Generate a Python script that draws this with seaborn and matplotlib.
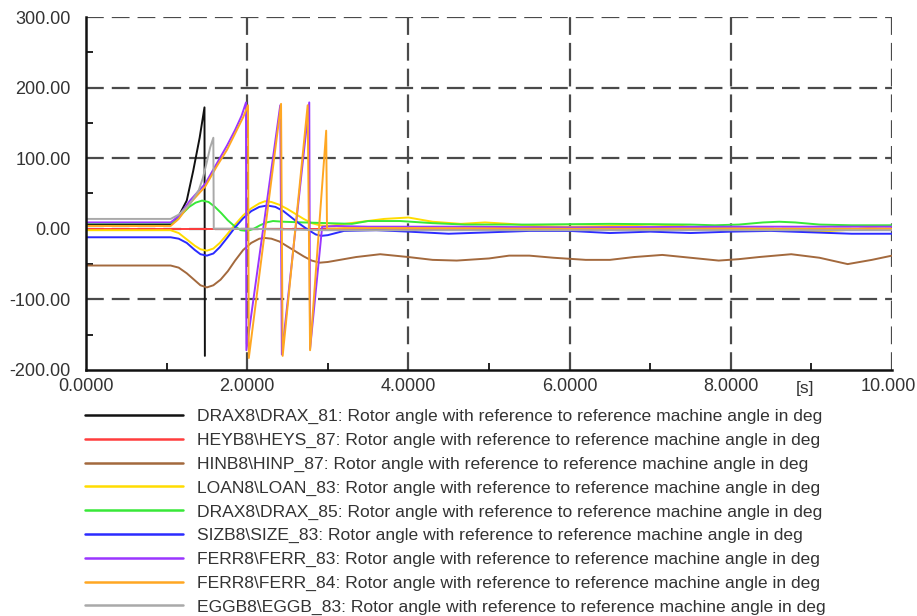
import numpy as np
import pandas as pd
import matplotlib
matplotlib.use("Agg")
import matplotlib.pyplot as plt
import matplotlib.transforms as mtransforms
import seaborn as sns

# Rotor angle traces (time in s, angle in deg)
drax81_t = [0, 1.05, 1.15, 1.25, 1.33, 1.41, 1.47, 1.475]
drax81_v = [6, 6, 18, 40, 82, 129, 172, -180]

heys87_t = [0, 10.0]
heys87_v = [0, 0]

hinp87_t = [0, 1.05, 1.15, 1.25, 1.35, 1.42, 1.5, 1.58, 1.67, 1.76, 1.85, 1.95, 2.05, 2.15,
            2.22, 2.3, 2.4, 2.5, 2.6, 2.7, 2.8, 2.9, 3.0, 3.15, 3.35, 3.65,
            4.0, 4.3, 4.6, 5.0, 5.25, 5.5, 5.8, 6.2, 6.5, 6.8, 7.15, 7.5, 7.85, 8.1, 8.35, 8.75,
            9.1, 9.45, 9.75, 10.0]
hinp87_v = [-52, -52, -55, -63, -73, -80, -83, -80, -72, -60, -45, -30, -20, -14,
            -13, -14, -18, -25, -32, -39, -45, -48, -47, -44, -40, -36,
            -40, -44, -45, -42, -38, -38, -41, -44, -44, -40, -37, -41, -45, -43, -40, -36,
            -41, -50, -44, -38]

loan83_t = [0, 1.05, 1.15, 1.25, 1.35, 1.42, 1.5, 1.58, 1.66, 1.75, 1.85, 1.95, 2.05, 2.15,
            2.22, 2.3, 2.4, 2.5, 2.6, 2.7, 2.8, 2.9, 3.0, 3.15, 3.35,
            3.7, 4.0, 4.3, 4.65, 4.95, 5.25, 5.55, 6.0, 6.5, 7.0, 7.3, 7.7, 8.0, 8.5, 9.1, 9.4,
            9.7, 10.0]
loan83_v = [-2, -2, -6, -15, -24, -29, -31, -28, -20, -8, 6, 19, 29, 36,
            39, 38, 34, 28, 21, 14, 8, 5, 4, 6, 9,
            14, 16, 10, 7, 9, 7, 4, 3, 4, 6, 5, 1, 1, 0, -4, -2,
            1, 0]

drax85_t = [0, 1.05, 1.12, 1.2, 1.28, 1.36, 1.44, 1.52, 1.6, 1.68, 1.76, 1.84, 1.92, 2.0,
            2.08, 2.16, 2.24, 2.32, 2.45, 2.7, 3.3, 3.5, 3.9, 4.3, 4.7, 5.5, 6.5, 7.5, 7.8,
            8.1, 8.4, 8.6, 8.8, 9.1, 9.5, 10.0]
drax85_v = [8, 8, 12, 22, 31, 37, 40, 38, 31, 22, 12, 4, -2, -3,
            0, 5, 9, 11, 10, 9, 7, 11, 11, 8, 6, 6, 7, 6, 5,
            6, 9, 10, 9, 6, 5, 5]

size83_t = [0, 1.05, 1.15, 1.25, 1.35, 1.42, 1.5, 1.58, 1.66, 1.75, 1.85, 1.95, 2.05, 2.15,
            2.25, 2.35, 2.45, 2.55, 2.65, 2.75, 2.85, 2.92, 3.0, 3.1, 3.2,
            3.6, 4.0, 4.5, 5.0, 5.5, 6.0, 6.5, 7.0, 7.5, 8.0, 8.5, 9.0, 9.5, 10.0]
size83_v = [-12, -12, -14, -20, -30, -36, -38, -35, -26, -13, 2, 15, 25, 31,
            33, 31, 25, 16, 7, -1, -8, -10, -9, -6, -3,
            -2, -4, -7, -5, -3, -3, -6, -4, -6, -4, -3, -5, -7, -7]

ferr83_t = [0, 1.05, 1.15, 1.29, 1.48, 1.62, 1.75, 1.85, 1.93, 1.985, 1.99, 2.41, 2.43,
            2.77, 2.78, 2.93, 3.1, 3.5, 4.5, 6.0, 8.0, 10.0]
ferr83_v = [9, 9, 18, 40, 64, 92, 118, 140, 160, 179, -172, 175, -178,
            179, -170, 3, 4, 3, 3, 2, 3, 3]

ferr84_t = [0, 1.05, 1.15, 1.29, 1.48, 1.62, 1.75, 1.85, 1.95, 2.01, 2.02, 2.42, 2.44,
            2.75, 2.78, 2.98, 2.99, 3.2, 4.0, 6.0, 8.0, 10.0]
ferr84_v = [4, 4, 14, 36, 60, 88, 112, 135, 158, 175, -183, 177, -180,
            175, -172, 139, 0, 1, 1, 0, 0, 0]

eggb83_t = [0, 1.05, 1.15, 1.29, 1.4, 1.45, 1.5, 1.54, 1.58, 1.585, 2.0, 3.0, 5.0, 7.0, 10.0]
eggb83_v = [14, 14, 20, 35, 55, 72, 95, 115, 129, 0, 0, -2, -2, -2, -2]

suffix = ": Rotor angle with reference to reference machine angle in deg"
names = ["DRAX8\\DRAX_81", "HEYB8\\HEYS_87", "HINB8\\HINP_87", "LOAN8\\LOAN_83",
         "DRAX8\\DRAX_85", "SIZB8\\SIZE_83", "FERR8\\FERR_83", "FERR8\\FERR_84",
         "EGGB8\\EGGB_83"]
colors = ["#111111", "#ff3d3d", "#a3693d", "#ffdc00", "#38e838", "#2b2bff",
          "#9a35ff", "#ffa722", "#a9a9a9"]

y_ticks = [-200, -100, 0, 100, 200, 300]
y_labels = ["-200.00", "-100.00", "0.00", "100.00", "200.00", "300.00"]
x_ticks = [0, 2, 4, 6, 8, 10]
x_labels = ["0.0000", "2.0000", "4.0000", "6.0000", "8.0000", "10.000"]

traces = [(drax81_t, drax81_v), (heys87_t, heys87_v), (hinp87_t, hinp87_v),
          (loan83_t, loan83_v), (drax85_t, drax85_v), (size83_t, size83_v),
          (ferr83_t, ferr83_v), (ferr84_t, ferr84_v), (eggb83_t, eggb83_v)]

frames = []
for name, (t, v) in zip(names, traces):
    frames.append(pd.DataFrame({"time": t, "angle": v, "series": name + suffix}))
df = pd.concat(frames, ignore_index=True)
labels = [n + suffix for n in names]

sns.set_style("white")
plt.rcParams["font.family"] = ["Liberation Sans", "DejaVu Sans"]

fig = plt.figure(figsize=(9.17, 6.16), dpi=100)
ax = fig.add_axes([86 / 917, 1 - 370 / 616, 806 / 917, 353 / 616])

sns.lineplot(data=df, x="time", y="angle", hue="series", hue_order=labels,
             palette=dict(zip(labels, colors)), sort=False, estimator=None,
             linewidth=1.4, ax=ax)
ax.get_legend().remove()

ax.set_xlim(0, 10)
ax.set_ylim(-200, 300)
ax.set_xlabel("")
ax.set_ylabel("")

# dashed grid on major positions, small inward ticks on the half steps
for yv in y_ticks[1:]:
    ax.axhline(yv, color="#4a4a4a", lw=1.6, ls=(0, (8, 3.6)), zorder=0.5)
for xv in x_ticks[1:]:
    ax.axvline(xv, color="#4a4a4a", lw=1.6, ls=(0, (8, 3.6)), zorder=0.5)

ax.set_xticks(x_ticks)
ax.set_xticklabels(x_labels)
ax.set_yticks(y_ticks)
ax.set_yticklabels(y_labels)
ax.set_xticks([1, 3, 5, 7, 9], minor=True)
ax.set_yticks([-150, -50, 50, 150, 250], minor=True)
ax.tick_params(which="major", length=0, labelsize=13, labelcolor="#333333")
ax.tick_params(axis="y", which="major", pad=11)
ax.tick_params(axis="x", which="major", pad=6)
ax.tick_params(which="minor", direction="in", length=5, width=1.4, color="#222222",
               bottom=True, left=True)

# last x label sits against the right edge of the picture
last = ax.get_xticklabels()[-1]
last.set_horizontalalignment("right")
last.set_transform(last.get_transform() + mtransforms.ScaledTranslation(24 / 100, 0, fig.dpi_scale_trans))

for side in ["top", "right"]:
    ax.spines[side].set_visible(False)
for side in ["left", "bottom"]:
    ax.spines[side].set_color("#111111")
    ax.spines[side].set_linewidth(1.8)

trans = mtransforms.blended_transform_factory(ax.transData, ax.transAxes)
ax.annotate("[s]", xy=(8.92, 0), xycoords=trans, xytext=(0, -13), textcoords="offset points",
            ha="center", va="center", fontsize=12.5, color="#333333")

handles, _ = ax.get_legend_handles_labels()
leg = fig.legend(handles, labels, loc="upper left", bbox_to_anchor=(85 / 917, 1 - 409 / 616),
                 frameon=False, fontsize=12.6, handlelength=5.6, handletextpad=0.8,
                 labelspacing=0.48, borderpad=0, borderaxespad=0)
for line in leg.get_lines():
    line.set_linewidth(1.8)
for txt in leg.get_texts():
    txt.set_color("#333333")

fig.savefig("out.png", dpi=100)
